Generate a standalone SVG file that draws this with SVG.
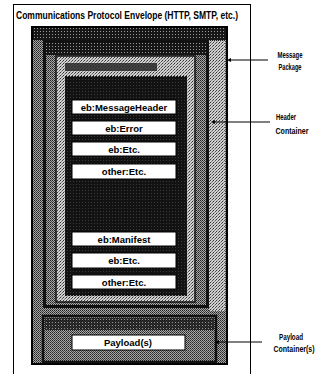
<svg xmlns="http://www.w3.org/2000/svg" width="324" height="374" viewBox="0 0 324 374">
<defs>
<style>
.t{font-family:"Liberation Sans",Arial,sans-serif;font-weight:bold;fill:#000}
.box{fill:#fff;stroke:#000;stroke-width:1}
.bt{font-size:9.5px;text-anchor:middle}
.lbl{font-size:8.5px;text-anchor:middle}
.ln{stroke:#000;stroke-width:1.2;fill:none}
</style>
<pattern id="lt" width="3" height="3" patternUnits="userSpaceOnUse">
<rect width="3" height="3" fill="#cfcfcf"/><rect x="0" y="0" width="1" height="1" fill="#333"/><rect x="2" y="1" width="1" height="1" fill="#555"/><rect x="1" y="2" width="1" height="1" fill="#888"/>
</pattern>
<pattern id="md" width="2" height="2" patternUnits="userSpaceOnUse">
<rect width="2" height="2" fill="#a8a8a8"/><rect x="0" y="0" width="1" height="1" fill="#222"/><rect x="1" y="1" width="1" height="1" fill="#444"/>
</pattern>
<pattern id="dk" width="3" height="3" patternUnits="userSpaceOnUse">
<rect width="3" height="3" fill="#161616"/><rect x="1" y="1" width="1" height="1" fill="#9a9a9a"/>
</pattern>
<marker id="dot" markerWidth="4" markerHeight="4" refX="2" refY="2" markerUnits="userSpaceOnUse">
<path d="M4,0 L0,2 L4,4 Z" fill="#000"/>
</marker>
</defs>

<g id="envelope">
<rect x="13.5" y="4.5" width="237" height="372" fill="#fff" stroke="#000" stroke-width="1"/>
<text class="t" x="16" y="19" font-size="10" textLength="222" lengthAdjust="spacingAndGlyphs">Communications Protocol Envelope (HTTP, SMTP, etc.)</text>
</g>

<g id="message-package">
<rect x="32" y="27" width="195" height="337" fill="url(#md)" stroke="#000" stroke-width="2"/>
<rect x="33" y="28" width="193" height="12" fill="url(#dk)"/>
<rect x="209" y="41" width="16" height="270" fill="url(#lt)"/>
</g>

<g id="header-container">
<rect x="44.5" y="41.5" width="163" height="265" fill="url(#md)" stroke="#111" stroke-width="3"/>
<rect x="46" y="43" width="160" height="12" fill="url(#dk)"/>
<g id="soap-header">
<rect x="56" y="56" width="139" height="246" fill="url(#lt)" stroke="#111" stroke-width="1.5"/>
<rect x="65" y="63" width="92" height="8" fill="#2a2a2a" opacity="0.85"/>
<rect x="65" y="76" width="122" height="220" fill="url(#dk)"/>
<rect x="66" y="77" width="120" height="218" fill="#111" opacity="0.7"/>
</g>
<g id="eb-messageheader"><rect class="box" x="72" y="100" width="104" height="14"/><text class="t bt" x="124" y="110.5">eb:MessageHeader</text></g>
<g id="eb-error"><rect class="box" x="72" y="121" width="104" height="14"/><text class="t bt" x="124" y="131.5">eb:Error</text></g>
<g id="eb-etc-1"><rect class="box" x="72" y="142" width="104" height="14"/><text class="t bt" x="124" y="152.5">eb:Etc.</text></g>
<g id="other-etc-1"><rect class="box" x="72" y="164" width="104" height="15"/><text class="t bt" x="124" y="175">other:Etc.</text></g>
<g id="eb-manifest"><rect class="box" x="72" y="232" width="104" height="14"/><text class="t bt" x="124" y="242.5">eb:Manifest</text></g>
<g id="eb-etc-2"><rect class="box" x="72" y="253" width="104" height="15"/><text class="t bt" x="124" y="264">eb:Etc.</text></g>
<g id="other-etc-2"><rect class="box" x="72" y="275" width="104" height="14"/><text class="t bt" x="124" y="285.5">other:Etc.</text></g>
</g>

<g id="payload-container">
<rect x="43" y="316" width="173" height="46" fill="url(#md)" stroke="#111" stroke-width="2.5"/>
<rect x="45" y="318" width="169" height="12" fill="url(#dk)" opacity="0.8"/>
<g id="payload"><rect class="box" x="72" y="335" width="113" height="15"/><text class="t bt" x="128" y="346">Payload(s)</text></g>
</g>

<g id="connectors">
<line class="ln" x1="229" y1="60" x2="268" y2="60" stroke-width="1" marker-start="url(#dot)"/>
<line class="ln" x1="213" y1="122" x2="270" y2="122" marker-start="url(#dot)"/>
<line class="ln" x1="217" y1="342" x2="262" y2="342" marker-start="url(#dot)"/>
</g>

<g id="labels">
<text class="t lbl" x="290" y="58" textLength="25" lengthAdjust="spacingAndGlyphs">Message</text>
<text class="t lbl" x="290" y="70" textLength="23" lengthAdjust="spacingAndGlyphs">Package</text>
<text class="t lbl" x="286" y="120" textLength="20" lengthAdjust="spacingAndGlyphs">Header</text>
<text class="t lbl" x="292" y="134" textLength="33" lengthAdjust="spacingAndGlyphs">Container</text>
<text class="t lbl" x="291" y="340" textLength="24" lengthAdjust="spacingAndGlyphs">Payload</text>
<text class="t lbl" x="294" y="352" textLength="41" lengthAdjust="spacingAndGlyphs">Container(s)</text>
</g>
</svg>
